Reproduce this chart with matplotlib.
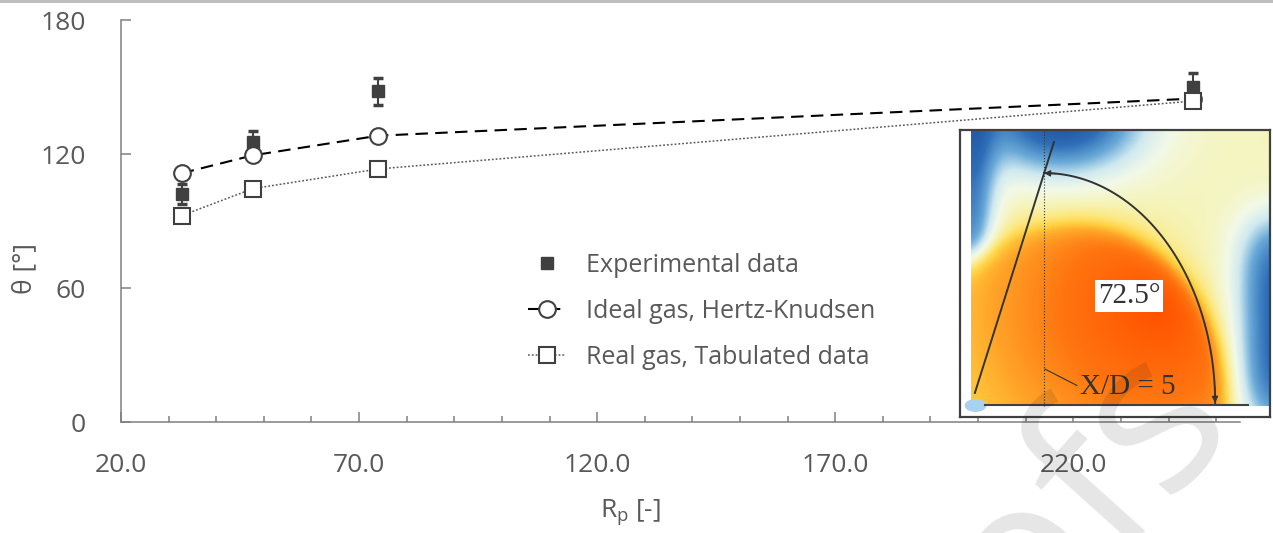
import numpy as np
import matplotlib.pyplot as plt
from matplotlib.colors import LinearSegmentedColormap
from matplotlib.lines import Line2D
from matplotlib.patches import Ellipse, Rectangle

plt.rcParams['font.family'] = ['Open Sans', 'DejaVu Sans']
plt.rcParams['mathtext.fontset'] = 'custom'
plt.rcParams['mathtext.rm'] = 'Open Sans'
plt.rcParams['mathtext.it'] = 'Open Sans'

# Jet spreading angle vs. pressure ratio
rp = [32.75, 47.7, 74.05, 245.1]
theta_exp = [102.0, 125.5, 148.0, 150.2]
theta_exp_err = [4.5, 4.7, 5.9, 5.9]
theta_ideal = [111.4, 119.4, 128.2, 144.8]
theta_real = [92.4, 104.5, 113.3, 143.7]

x_ticks = [20, 70, 120, 170, 220]
x_ticklabels = ['20.0', '70.0', '120.0', '170.0', '220.0']
y_ticks = [0, 60, 120, 180]

labels = ['Experimental data', 'Ideal gas, Hertz-Knudsen', 'Real gas, Tabulated data']

txt = '#595959'
edge = '#404040'

W, H = 1273, 533
fig = plt.figure(figsize=(W / 100, H / 100), dpi=100)
ax = fig.add_axes([121 / W, 1 - 422 / H, 1119 / W, 402 / H])

ax.errorbar(rp, theta_exp, yerr=theta_exp_err, fmt='s', ms=9, color=edge,
            mfc=edge, mec=edge, ecolor=edge, elinewidth=1.5, capsize=3.5,
            capthick=2.5, zorder=2)
ax.plot(rp, theta_ideal, color='black', lw=1.5, dashes=(6, 3.5), marker='o',
        ms=12, mfc='white', mec=edge, mew=1.5, zorder=3)
ax.plot(rp, theta_real, color=txt, lw=1.1, dashes=(1.2, 1.3), marker='s',
        ms=11.5, mfc='white', mec=edge, mew=1.5, zorder=4)

ax.set_xlim(20, 255)
ax.set_ylim(0, 180)
ax.set_xticks(x_ticks)
ax.set_xticklabels(x_ticklabels)
ax.set_xticks(np.arange(30, 255, 10), minor=True)
ax.set_yticks(y_ticks)
for s in ['top', 'right']:
    ax.spines[s].set_visible(False)
for s in ['left', 'bottom']:
    ax.spines[s].set_color('#808080')
    ax.spines[s].set_linewidth(1.1)
ax.tick_params(axis='both', which='major', direction='in', length=7,
               width=1.1, color='#808080', labelcolor=txt, labelsize=19, pad=22)
ax.tick_params(axis='y', which='major', pad=25.5)
ax.tick_params(axis='x', which='minor', direction='in', length=4.5,
               width=1.1, color='#808080')

fig.text(25 / W, 1 - 268 / H, 'θ [°]', rotation=90, ha='center', va='center',
         fontsize=19, color=txt)
fig.text(630 / W, 1 - 512 / H, r'R$_\mathregular{p}$ [-]', ha='center',
         va='center', fontsize=19, color=txt)

handles = [
    Line2D([], [], ls='none', marker='s', ms=9, mfc=edge, mec=edge),
    Line2D([], [], color='black', lw=1.5, dashes=(6, 3.5), marker='o', ms=12,
           mfc='white', mec=edge, mew=1.5),
    Line2D([], [], color=txt, lw=1.1, dashes=(1.2, 1.3), marker='s', ms=11.5,
           mfc='white', mec=edge, mew=1.5),
]
ax.legend(handles, labels, loc='upper left', bbox_to_anchor=(528 / W, 1 - 253 / H),
          bbox_transform=fig.transFigure, frameon=False, fontsize=18,
          labelcolor=txt, handlelength=1.5, handletextpad=0.8,
          labelspacing=0.83, borderpad=0, borderaxespad=0)

# contour field of the jet in the inset
ax_in = fig.add_axes([960 / W, 1 - 417 / H, 310 / W, 287 / H])
ax_in.set_xlim(0, 1)
ax_in.set_ylim(0, 1)
ax_in.set_xticks([])
ax_in.set_yticks([])
for s in ax_in.spines.values():
    s.set_color(edge)
    s.set_linewidth(1.6)

u = np.linspace(0, 1, 320)
v = np.linspace(0, 1, 300)
U, V = np.meshgrid(u, v)
a = np.where(U < 0.35, 0.56, 0.49)
r = np.sqrt(((U - 0.35) / a) ** 2 + (V / 0.64) ** 2)
sig = 1 / (1 + np.exp((r - 1) / 0.04))
core = 1 - 0.22 * np.sqrt(((U - 0.62) / 0.5) ** 2 + ((V - 0.35) / 0.5) ** 2)
cold = (0.5 * np.exp(-((U - 0.3) / 0.26) ** 2 - ((V - 1.05) / 0.2) ** 2)
        + 0.33 * np.exp(-(U / 0.08) ** 2) / (1 + np.exp(-(V - 0.5) / 0.04))
        + 0.4 * np.exp(-((U - 1.02) / 0.13) ** 2) * np.exp(-((V - 0.3) / 0.38) ** 4))
outer = 0.52 + 0.14 * np.exp(-np.clip(r - 1, 0, None) / 0.12) - cold
field = sig * core + (1 - sig) * outer

cmap = LinearSegmentedColormap.from_list('jet_field', [
    (0.00, '#1c4f9a'), (0.15, '#2f6fb8'), (0.28, '#6aaad8'), (0.38, '#cfe9f0'),
    (0.46, '#f2f9e8'), (0.52, '#f5f5c0'), (0.60, '#fde880'), (0.68, '#ffd040'),
    (0.76, '#ffa428'), (0.86, '#ff7510'), (1.00, '#ff5200')])
ax_in.imshow(field, origin='lower', extent=[0.035, 1, 0.038, 1], aspect='auto',
             cmap=cmap, vmin=0, vmax=1, interpolation='bilinear')
ax_in.add_patch(Ellipse((0.05, 0.04), 0.07, 0.045, color='#a8d2ee', lw=0))

dark = '#333333'
ax_in.plot([0.08, 0.93], [0.042, 0.042], color=edge, lw=1.5)
ax_in.plot([0.271, 0.271], [0.038, 1.0], color=dark, lw=0.8, ls=':')
ax_in.plot([0.048, 0.303], [0.084, 0.958], color=dark, lw=1.4)
t = np.linspace(0, np.pi / 2, 100)
cx, cy, rx, ry = 0.271, 0.049, 0.552, 0.801
ax_in.plot(cx + rx * np.cos(t), cy + ry * np.sin(t), color=dark, lw=1.4)
ax_in.annotate('', xy=(cx, cy + ry), xytext=(cx + rx * np.cos(1.5), cy + ry * np.sin(1.5)),
               arrowprops=dict(arrowstyle='-|>', color=dark, lw=1, mutation_scale=9,
                               shrinkA=0, shrinkB=0))
ax_in.annotate('', xy=(cx + rx, cy), xytext=(cx + rx * np.cos(0.07), cy + ry * np.sin(0.07)),
               arrowprops=dict(arrowstyle='-|>', color=dark, lw=1, mutation_scale=9,
                               shrinkA=0, shrinkB=0))
ax_in.plot([0.274, 0.377], [0.167, 0.11], color=dark, lw=0.8)
ax_in.text(0.545, 0.422, '72.5°', ha='center', va='center', fontsize=21,
           family='Liberation Serif', color=dark,
           bbox=dict(facecolor='white', edgecolor='none', pad=2))
ax_in.text(0.54, 0.105, 'X/D = 5', ha='center', va='center', fontsize=21,
           family='Liberation Serif', color=dark)

fig.text(1232 / W, 1 - 412 / H, 'Proofs', rotation=48, rotation_mode='anchor',
         ha='right', va='baseline', fontsize=160, color='black', alpha=0.1,
         zorder=10)

fig.patches.append(Rectangle((0, 1 - 3 / H), 1, 3 / H, transform=fig.transFigure,
                             color='#bfbfbf', lw=0))

fig.savefig('out.png', dpi=100)
